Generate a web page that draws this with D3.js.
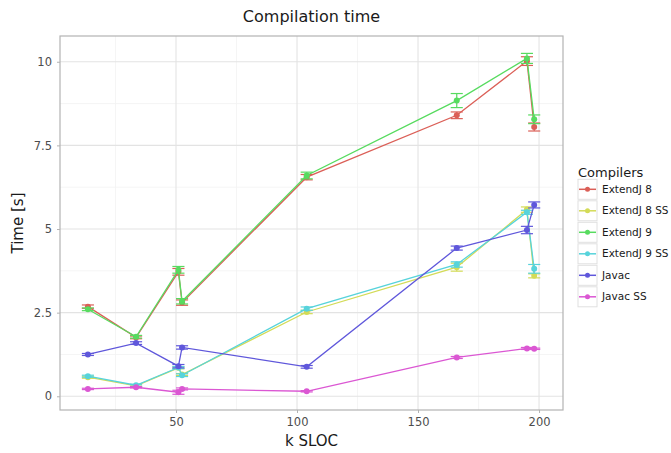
<!DOCTYPE html>
<html>
<head>
<meta charset="utf-8">
<script src="https://cdn.jsdelivr.net/npm/d3@7"></script>
<style>
  body { margin: 0; background: #fff; }
  svg { font-family: "DejaVu Sans", sans-serif; }
</style>
</head>
<body>
<div id="chart"></div>
<script>
// project sizes (k SLOC) shared by every compiler
const ksloc = [13.6, 33.5, 51, 52.5, 104, 166, 195, 198]

const compilers = ["ExtendJ 8", "ExtendJ 8 SS", "ExtendJ 9", "ExtendJ 9 SS", "Javac", "Javac SS"]

const meanExtendJ8   = [2.68, 1.76, 3.72, 2.8, 6.55, 8.4, 10.02, 8.05]
const meanExtendJ8SS = [0.57, 0.31, 0.85, 0.65, 2.52, 3.86, 5.58, 3.6]
const meanExtendJ9   = [2.6, 1.78, 3.78, 2.84, 6.6, 8.84, 10.1, 8.28]
const meanExtendJ9SS = [0.6, 0.33, 0.86, 0.63, 2.62, 3.94, 5.5, 3.81]
const meanJavac      = [1.25, 1.59, 0.9, 1.46, 0.88, 4.43, 4.97, 5.72]
const meanJavacSS    = [0.22, 0.27, 0.12, 0.22, 0.15, 1.16, 1.43, 1.42]

const sdExtendJ8   = [0.05, 0.04, 0.1, 0.08, 0.08, 0.1, 0.13, 0.12]
const sdExtendJ8SS = [0.03, 0.03, 0.03, 0.03, 0.05, 0.12, 0.08, 0.06]
const sdExtendJ9   = [0.04, 0.04, 0.1, 0.08, 0.1, 0.21, 0.15, 0.13]
const sdExtendJ9SS = [0.03, 0.03, 0.03, 0.04, 0.05, 0.08, 0.06, 0.13]
const sdJavac      = [0.03, 0.04, 0.05, 0.05, 0.04, 0.06, 0.11, 0.09]
const sdJavacSS    = [0.02, 0.02, 0.06, 0.03, 0.02, 0.03, 0.03, 0.02]

const xTicks = [50, 100, 150, 200]
const yTicks = [0, 2.5, 5, 7.5, 10]
const yTickLabels = ["0", "2.5", "5", "7.5", "10"]

const colors = ["#db5f57", "#d3db57", "#57db5f", "#57d3db", "#5f57db", "#db57d3"]

const means = [meanExtendJ8, meanExtendJ8SS, meanExtendJ9, meanExtendJ9SS, meanJavac, meanJavacSS]
const sds = [sdExtendJ8, sdExtendJ8SS, sdExtendJ9, sdExtendJ9SS, sdJavac, sdJavacSS]

const series = compilers.map((name, i) => ({
  name: name,
  color: colors[i],
  points: ksloc.map((k, j) => ({ x: k, y: means[i][j], sd: sds[i][j] }))
}))

const width = 671
const height = 453
const panel = { left: 60, right: 563, top: 36, bottom: 410 }

const svg = d3.select("#chart")
  .append("svg")
    .attr("width", width)
    .attr("height", height)

let x = d3.scaleLinear()
  .domain([2.07, 209.9])
  .range([panel.left, panel.right])

let y = d3.scaleLinear()
  .domain([-0.41, 10.77])
  .range([panel.bottom, panel.top])

// minor grid
const xMinor = [25, 75, 125, 175]
const yMinor = [1.25, 3.75, 6.25, 8.75]
svg.append("g")
  .selectAll("line.xminor")
  .data(xMinor)
  .enter()
  .append("line")
    .attr("x1", d => x(d)).attr("x2", d => x(d))
    .attr("y1", panel.top).attr("y2", panel.bottom)
    .attr("stroke", "#f2f2f2").attr("stroke-width", 0.8)
svg.append("g")
  .selectAll("line.yminor")
  .data(yMinor)
  .enter()
  .append("line")
    .attr("y1", d => y(d)).attr("y2", d => y(d))
    .attr("x1", panel.left).attr("x2", panel.right)
    .attr("stroke", "#f2f2f2").attr("stroke-width", 0.8)

// major grid
svg.append("g")
  .selectAll("line")
  .data(xTicks)
  .enter()
  .append("line")
    .attr("x1", d => x(d)).attr("x2", d => x(d))
    .attr("y1", panel.top).attr("y2", panel.bottom)
    .attr("stroke", "#e3e3e3").attr("stroke-width", 1.1)
svg.append("g")
  .selectAll("line")
  .data(yTicks)
  .enter()
  .append("line")
    .attr("y1", d => y(d)).attr("y2", d => y(d))
    .attr("x1", panel.left).attr("x2", panel.right)
    .attr("stroke", "#e3e3e3").attr("stroke-width", 1.1)

// axes
const xAxis = svg.append("g")
  .attr("transform", "translate(0," + panel.bottom + ")")
  .call(d3.axisBottom(x).tickValues(xTicks).tickSize(3).tickPadding(5))
const yAxis = svg.append("g")
  .attr("transform", "translate(" + panel.left + ",0)")
  .call(d3.axisLeft(y).tickValues(yTicks).tickSize(3).tickPadding(5)
    .tickFormat((d, i) => yTickLabels[i]))
;[xAxis, yAxis].forEach(a => {
  a.select(".domain").remove()
  a.selectAll(".tick line").attr("stroke", "#b3b3b3")
  a.selectAll(".tick text").attr("fill", "#4d4d4d").attr("font-size", "11.5px")
    .attr("font-family", "DejaVu Sans")
})

// panel border
svg.append("rect")
  .attr("x", panel.left).attr("y", panel.top)
  .attr("width", panel.right - panel.left).attr("height", panel.bottom - panel.top)
  .attr("fill", "none").attr("stroke", "#b3b3b3").attr("stroke-width", 1.2)

const line = d3.line().x(d => x(d.x)).y(d => y(d.y))
const capHalf = 2.5

series.forEach(s => {
  const g = svg.append("g")
  g.append("path")
    .datum(s.points)
    .attr("d", line)
    .attr("fill", "none")
    .attr("stroke", s.color)
    .attr("stroke-width", 1.3)

  const bars = g.selectAll("g.err")
    .data(s.points)
    .enter()
    .append("g")
  bars.append("line")
    .attr("x1", d => x(d.x)).attr("x2", d => x(d.x))
    .attr("y1", d => y(d.y - d.sd)).attr("y2", d => y(d.y + d.sd))
    .attr("stroke", s.color).attr("stroke-width", 1.2)
  bars.append("line")
    .attr("x1", d => x(d.x - capHalf)).attr("x2", d => x(d.x + capHalf))
    .attr("y1", d => y(d.y - d.sd)).attr("y2", d => y(d.y - d.sd))
    .attr("stroke", s.color).attr("stroke-width", 1.2)
  bars.append("line")
    .attr("x1", d => x(d.x - capHalf)).attr("x2", d => x(d.x + capHalf))
    .attr("y1", d => y(d.y + d.sd)).attr("y2", d => y(d.y + d.sd))
    .attr("stroke", s.color).attr("stroke-width", 1.2)

  g.selectAll("circle")
    .data(s.points)
    .enter()
    .append("circle")
      .attr("cx", d => x(d.x))
      .attr("cy", d => y(d.y))
      .attr("r", 3)
      .attr("fill", s.color)
})

// titles
svg.append("text")
  .attr("x", (panel.left + panel.right) / 2).attr("y", 22)
  .attr("text-anchor", "middle")
  .attr("font-size", "16px").attr("fill", "#1a1a1a")
  .text("Compilation time")
svg.append("text")
  .attr("x", (panel.left + panel.right) / 2).attr("y", 446)
  .attr("text-anchor", "middle")
  .attr("font-size", "15px").attr("fill", "#1a1a1a")
  .text("k SLOC")
svg.append("text")
  .attr("transform", "translate(23," + ((panel.top + panel.bottom) / 2) + ")rotate(-90)")
  .attr("text-anchor", "middle")
  .attr("font-size", "15px").attr("fill", "#1a1a1a")
  .text("Time [s]")

// legend
const legend = svg.append("g").attr("transform", "translate(578,0)")
legend.append("text")
  .attr("x", 0).attr("y", 177)
  .attr("font-size", "13px").attr("fill", "#1a1a1a")
  .text("Compilers")

const rows = legend.selectAll("g.row")
  .data(series)
  .enter()
  .append("g")
    .attr("transform", (d, i) => "translate(0," + (189.3 + i * 21.5) + ")")
rows.append("rect")
  .attr("x", 0).attr("y", -10)
  .attr("width", 19).attr("height", 20)
  .attr("fill", "#fff").attr("stroke", "#e0e0e0").attr("stroke-width", 1)
rows.append("line")
  .attr("x1", 1).attr("x2", 18).attr("y1", 0).attr("y2", 0)
  .attr("stroke", d => d.color).attr("stroke-width", 1.5)
rows.append("circle")
  .attr("cx", 9.5).attr("cy", 0).attr("r", 2.5)
  .attr("fill", d => d.color)
rows.append("text")
  .attr("x", 24).attr("y", 0).attr("dy", "0.35em")
  .attr("font-size", "10.5px").attr("fill", "#1a1a1a")
  .text(d => d.name)
</script>
</body>
</html>
